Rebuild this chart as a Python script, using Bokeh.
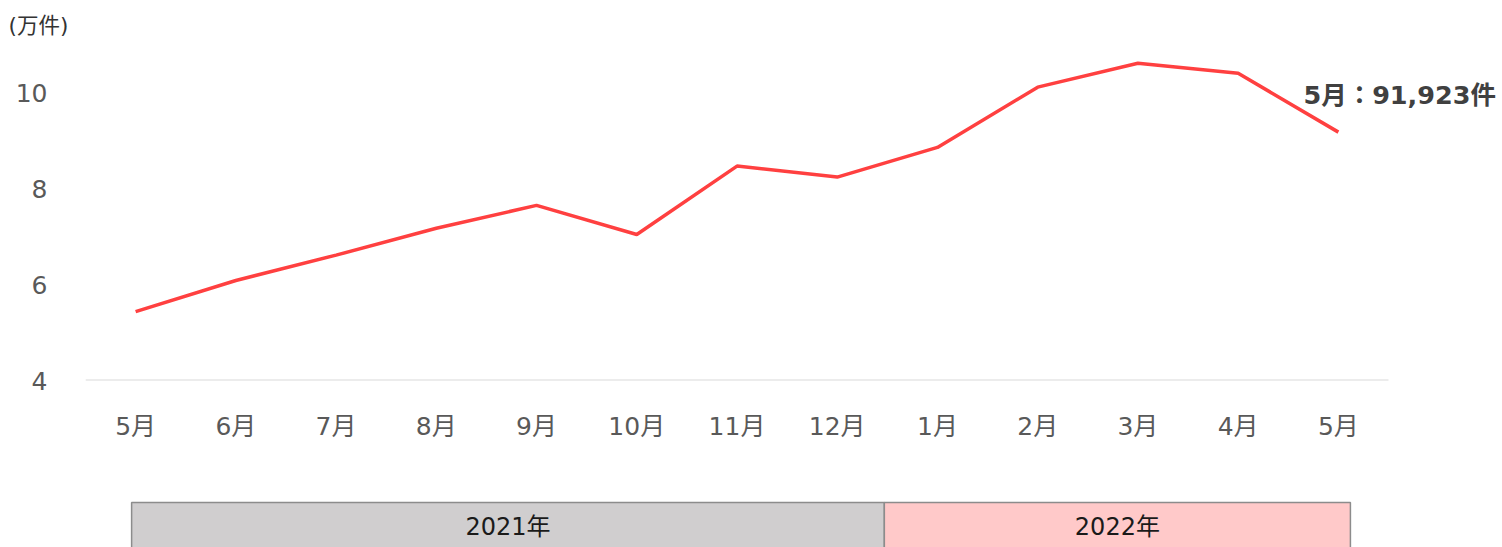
from bokeh.plotting import figure
from bokeh.models import Range1d, FixedTicker, Label, ColumnDataSource
from bokeh.layouts import column
from bokeh.embed import file_html
from bokeh.resources import INLINE
from bokeh.core.properties import value

# ---- data ----
months = ["5月", "6月", "7月", "8月", "9月", "10月", "11月", "12月",
          "1月", "2月", "3月", "4月", "5月"]
counts = [5.44, 6.09, 6.62, 7.18, 7.66, 7.05, 8.48, 8.25,
          8.87, 10.13, 10.63, 10.42, 9.19]   # 万件
y_ticks = [4, 6, 8, 10]
last_label = "5月：91,923件"
unit_label = "(万件)"
years = ["2021年", "2022年"]
year_start = [-0.04, 7.47]   # in month-index units
year_end = [7.47, 12.12]
year_colors = ["#d0cecf", "#ffc9c9"]

FONT = "'DejaVu Sans', 'Noto Sans CJK JP'"
W = 1502
LEFT = 85            # frame left (px)
PLOT_RIGHT = 1388    # where the category band ends (px)
TOP = 45
BOTTOM = 380
H1 = 480
H2 = 547 - H1

idx = list(range(len(months)))
n = len(months)
step = (PLOT_RIGHT - LEFT) / n
x_end = (n - 0.5) + (W - PLOT_RIGHT) / step
xr = Range1d(-0.5, x_end)

p = figure(width=W, height=H1, x_range=xr, y_range=Range1d(4, 11),
           output_backend="svg", toolbar_location=None,
           min_border_left=LEFT, min_border_right=0,
           min_border_top=TOP, min_border_bottom=H1 - BOTTOM)
p.outline_line_color = None
p.background_fill_color = "white"
p.border_fill_color = "white"

# baseline at the lowest tick, spanning the category band
p.segment(x0=[idx[0] - 0.5], x1=[idx[-1] + 0.5], y0=[y_ticks[0]], y1=[y_ticks[0]],
          line_color="#d9d9d9", line_width=2)

p.line(idx, counts, line_color="#ff4040", line_width=3.5)

# axes
p.xaxis.ticker = FixedTicker(ticks=idx)
p.xaxis.major_label_overrides = {i: m for i, m in zip(idx, months)}
p.xaxis.axis_line_color = None
p.xaxis.major_tick_line_color = None
p.xaxis.major_tick_out = 0
p.xaxis.major_tick_in = 0
p.xaxis.minor_tick_line_color = None
p.xaxis.major_label_standoff = 31
p.xaxis.major_label_text_font = FONT
p.xaxis.major_label_text_font_size = "25px"
p.xaxis.major_label_text_color = "#595959"

p.yaxis.ticker = FixedTicker(ticks=y_ticks)
p.yaxis.axis_line_color = None
p.yaxis.major_tick_line_color = None
p.yaxis.major_tick_out = 0
p.yaxis.major_tick_in = 0
p.yaxis.minor_tick_line_color = None
p.yaxis.major_label_standoff = 38
p.yaxis.major_label_text_font = FONT
p.yaxis.major_label_text_font_size = "25px"
p.yaxis.major_label_text_color = "#595959"

p.grid.grid_line_color = None

# annotation for last point
p.add_layout(Label(x=idx[-1], y=counts[-1], text=last_label,
                   x_offset=-35, y_offset=37,
                   text_font=FONT, text_font_style="bold",
                   text_font_size="25.5px", text_color="#404040",
                   text_align="left", text_baseline="middle"))

# unit label as title
p.title.text = unit_label
p.title.align = "left"
p.title.offset = -77
p.title.standoff = 15
p.title.text_font = FONT
p.title.text_font_size = "21.5px"
p.title.text_font_style = "normal"
p.title.text_color = "#333333"

# ---- year band ----
p2 = figure(width=W, height=H2, x_range=xr, y_range=Range1d(0, 1),
            output_backend="svg", toolbar_location=None,
            min_border_left=LEFT, min_border_right=0,
            min_border_top=0, min_border_bottom=0)
p2.outline_line_color = None
p2.axis.visible = False
p2.grid.grid_line_color = None

src = ColumnDataSource(dict(left=year_start, right=year_end, label=years,
                            color=year_colors,
                            mid=[(a + b) / 2 for a, b in zip(year_start, year_end)]))
p2.quad(left="left", right="right", bottom=-0.5, top=0.672, source=src,
        fill_color="color", line_color="#8c8c8c", line_width=1.5)
p2.text(x="mid", y=0.3, text="label", source=src,
        text_font=value(FONT), text_font_size="24px", text_color="#1a1a1a",
        text_align="center", text_baseline="middle")

layout = column(p, p2, spacing=0)
open("out.html", "w").write(file_html(layout, INLINE))
